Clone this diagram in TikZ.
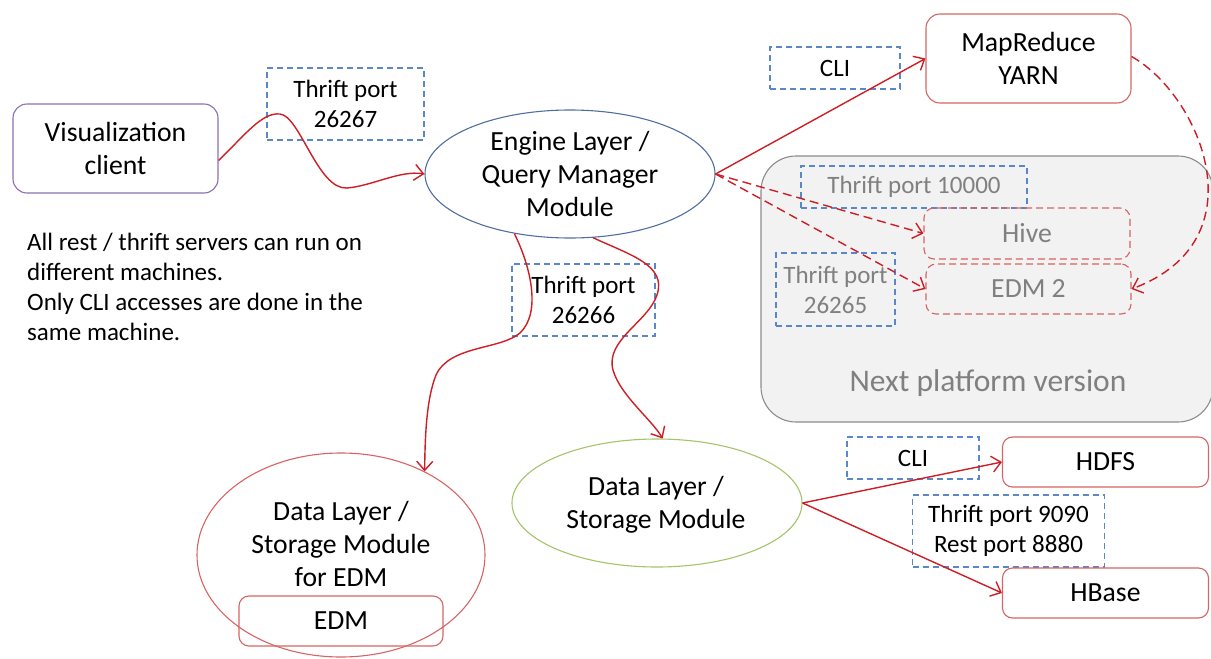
\documentclass[tikz,border=0pt]{standalone}
\usepackage{fontspec}
\setmainfont{Carlito}
\usetikzlibrary{shapes.geometric,arrows.meta}
\definecolor{conn}{RGB}{204,30,36}
\definecolor{boxred}{RGB}{215,100,100}
\definecolor{dblue}{RGB}{90,135,200}
\definecolor{elblue}{RGB}{80,110,160}
\definecolor{purp}{RGB}{140,110,180}
\definecolor{grn}{RGB}{165,195,105}
\definecolor{gtxt}{RGB}{128,128,128}
\definecolor{gfill}{RGB}{242,242,242}
\definecolor{gline}{RGB}{140,140,140}
\begin{document}
\begin{tikzpicture}[x=1pt,y=-1pt,
  every node/.style={font=\fontsize{27.7}{33}\selectfont, inner sep=0pt, align=center},
  sq/.style={draw=boxred, line width=1.1pt, rounded corners=10pt},
  dsq/.style={sq, dash pattern=on 7pt off 4pt, text=gtxt},
  port/.style={draw=dblue, dash pattern=on 6pt off 4pt, line width=1.1pt, font=\fontsize{25}{30}\selectfont},
  ell/.style={ellipse, line width=1.1pt},
  link/.style={draw=conn, line width=1.4pt, -{Straight Barb[length=9pt,width=16pt]}},
  dlink/.style={link, dash pattern=on 9pt off 5pt}
]
\useasboundingbox (0,0) rectangle (1211,659);

% next platform container
\node[draw=gline, fill=gfill, line width=1.1pt, rounded corners=35pt, minimum width=452pt, minimum height=266pt] (next) at (987,289) {};
\node[text=gtxt, font=\fontsize{31.5}{36}\selectfont] (nexttxt) at (988,383) {Next platform version};

\node[draw=purp, line width=1.1pt, rounded corners=14pt, minimum width=205pt, minimum height=89pt] (vis) at (115.5,148.5) {Visualization\\client};
\node[port, minimum width=157pt, minimum height=72pt] (tp1) at (345.5,104) {Thrift port\\26267};
\node[ell, draw=elblue, minimum width=290pt, minimum height=128pt] (engine) at (570,174) {Engine Layer /\\Query Manager\\Module};
\node[port, minimum width=130pt, minimum height=42pt] (cli1) at (835,68) {CLI};
\node[sq, rounded corners=14pt, minimum width=205pt, minimum height=89pt] (mr) at (1028.5,58.5) {MapReduce\\YARN};

\node[port, text=gtxt, minimum width=226pt, minimum height=42pt] (tp10000) at (914,187) {Thrift port 10000};
\node[dsq, minimum width=206pt, minimum height=51pt] (hive) at (1027,233.5) {Hive};
\node[dsq, minimum width=205pt, minimum height=50pt] (edmtwo) at (1028.5,289) {EDM 2};
\node[port, text=gtxt, minimum width=119pt, minimum height=73pt] (tp26265) at (835.5,289.5) {Thrift port\\26265};

\node[port, minimum width=143pt, minimum height=72pt] (tp26266) at (583.5,300) {Thrift port\\26266};

\node[ell, draw=grn, minimum width=290pt, minimum height=128pt] (green) at (657,503) {};
\node (greentxt) at (656,505) {Data Layer /\\Storage Module};
\node[ell, draw=boxred, minimum width=288pt, minimum height=204pt] (edmL) at (341,555) {};
\node (edmLtxt) at (341,544) {Data Layer /\\Storage Module\\for EDM};
\node[sq, minimum width=204pt, minimum height=50pt] (edm) at (341,621) {EDM};

\node[port, minimum width=132pt, minimum height=42pt] (cli2) at (913,458) {CLI};
\node[sq, minimum width=206pt, minimum height=50pt] (hdfs) at (1105.5,462) {HDFS};
\node[port, minimum width=192pt, minimum height=72pt] (tp9090) at (1008.5,531) {Thrift port 9090\\Rest port 8880};
\node[sq, minimum width=206pt, minimum height=50pt] (hbase) at (1105.5,593) {HBase};

\node[anchor=north west, align=left, font=\fontsize{25}{30}\selectfont] (note) at (27,233)
  {All rest / thrift servers can run on\\different machines.\\Only CLI accesses are done in the\\same machine.};

% connectors
\draw[link] ([yshift=-12pt]vis.east) .. controls (245,135) and (262,112) .. (280,114)
  .. controls (300,116) and (318,190) .. (347,188)
  .. controls (372,186) and (400,170) .. (engine.west);
\draw[link] (engine.east) -- (mr.west);
\draw[dlink] (engine.east) -- (hive.west);
\draw[dlink] (engine.east) -- (edmtwo.west);
\draw[dlink] ([yshift=2pt]mr.east) .. controls (1200,95) and (1262,240) .. (edmtwo.east);
\draw[link] (engine.227) .. controls (530,265) and (542,312) .. (520,333)
  .. controls (500,350) and (450,345) .. (436,375)
  .. controls (426,400) and (425,440) .. (edmL.45);
\draw[link] (engine.290) .. controls (630,255) and (667,265) .. (657,295)
  .. controls (648,322) and (605,340) .. (613,370)
  .. controls (620,395) and (652,420) .. (green.85);
\draw[link] (green.east) -- (hdfs.west);
\draw[link] (green.east) -- (hbase.west);
\end{tikzpicture}
\end{document}
